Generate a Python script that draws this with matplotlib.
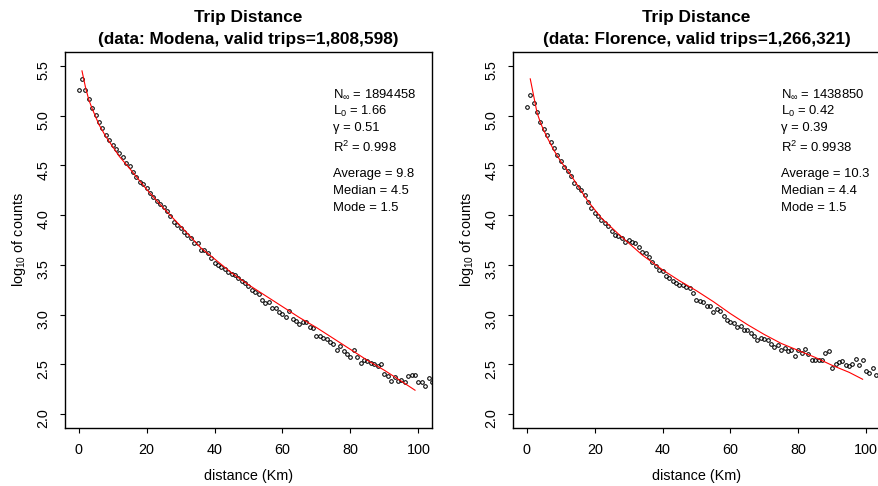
import matplotlib
matplotlib.use('Agg')
import matplotlib.pyplot as plt
import numpy as np

plt.rcParams['font.family'] = ['Liberation Sans', 'DejaVu Sans']
plt.rcParams['mathtext.fontset'] = 'custom'
plt.rcParams['mathtext.rm'] = 'Liberation Sans'
plt.rcParams['mathtext.it'] = 'Liberation Sans'
plt.rcParams['mathtext.bf'] = 'Liberation Sans:bold'

# distance bins (km)
km = np.arange(0, 105)

# log10 of counts per 1 km bin
modena_log = [5.256, 5.364, 5.256, 5.163, 5.082, 5.002, 4.935, 4.874, 4.801, 4.754,
              4.704, 4.663, 4.626, 4.586, 4.526, 4.492, 4.435, 4.379, 4.338, 4.308,
              4.268, 4.221, 4.184, 4.147, 4.114, 4.077, 4.037, 3.987, 3.930, 3.896,
              3.866, 3.833, 3.796, 3.769, 3.722, 3.722, 3.648, 3.648, 3.615, 3.565,
              3.521, 3.494, 3.481, 3.461, 3.430, 3.407, 3.397, 3.370, 3.337, 3.313,
              3.290, 3.246, 3.229, 3.203, 3.146, 3.112, 3.129, 3.069, 3.069, 3.022,
              3.005, 2.975, 3.039, 2.958, 2.938, 2.905, 2.925, 2.925, 2.871, 2.864,
              2.787, 2.787, 2.767, 2.750, 2.727, 2.700, 2.643, 2.680, 2.636, 2.600,
              2.570, 2.643, 2.570, 2.509, 2.539, 2.533, 2.509, 2.503, 2.486, 2.506,
              2.399, 2.382, 2.332, 2.372, 2.332, 2.342, 2.318, 2.379, 2.395, 2.389,
              2.325, 2.325, 2.281, 2.365, 2.318]

florence_log = [5.085, 5.206, 5.129, 5.032, 4.941, 4.861, 4.801, 4.734, 4.670, 4.603,
                4.549, 4.486, 4.442, 4.395, 4.325, 4.278, 4.248, 4.201, 4.127, 4.074,
                4.020, 3.993, 3.953, 3.923, 3.893, 3.836, 3.802, 3.789, 3.772, 3.732,
                3.749, 3.732, 3.715, 3.682, 3.625, 3.615, 3.581, 3.531, 3.487, 3.447,
                3.437, 3.387, 3.364, 3.337, 3.313, 3.293, 3.296, 3.280, 3.263, 3.213,
                3.146, 3.139, 3.129, 3.085, 3.085, 3.028, 3.052, 3.035, 2.988, 2.945,
                2.921, 2.911, 2.871, 2.884, 2.841, 2.841, 2.811, 2.787, 2.740, 2.767,
                2.750, 2.744, 2.700, 2.677, 2.697, 2.643, 2.660, 2.633, 2.643, 2.583,
                2.643, 2.616, 2.650, 2.600, 2.539, 2.539, 2.543, 2.543, 2.610, 2.630,
                2.462, 2.503, 2.526, 2.529, 2.496, 2.482, 2.499, 2.553, 2.496, 2.539,
                2.429, 2.409, 2.462, 2.392, 2.419]

# fitted curves (red), read at a few distances
modena_fit_km = [1, 2, 3, 4, 5, 6, 8, 10, 12, 15, 20, 25, 30, 36, 40, 45, 50, 55,
                 60, 65, 70, 75, 80, 85, 90, 95, 99]
modena_fit = [5.45, 5.29, 5.16, 5.07, 4.99, 4.91, 4.79, 4.69, 4.59, 4.47, 4.26, 4.07,
              3.89, 3.67, 3.56, 3.42, 3.30, 3.19, 3.08, 2.97, 2.87, 2.76, 2.65, 2.54,
              2.44, 2.33, 2.24]

florence_fit_km = [1, 2, 3, 4, 5, 6, 8, 10, 13, 18, 22, 27, 30, 34, 40, 45, 50, 55,
                   60, 65, 70, 75, 80, 85, 90, 95, 99]
florence_fit = [5.37, 5.20, 5.03, 4.93, 4.85, 4.78, 4.65, 4.54, 4.40, 4.14, 3.97,
                3.81, 3.72, 3.60, 3.45, 3.34, 3.24, 3.13, 3.01, 2.90, 2.80, 2.71,
                2.64, 2.57, 2.49, 2.42, 2.35]

titles = ['Trip Distance\n(data: Modena, valid trips=1,808,598)',
          'Trip Distance\n(data: Florence, valid trips=1,266,321)']
fit_params = [['1894458', '1.66', '0.51', '0.998'],
              ['1438850', '0.42', '0.39', '0.9938']]
stats = [['9.8', '4.5', '1.5'],
         ['10.3', '4.4', '1.5']]

fig = plt.figure(figsize=(8.79, 4.86), dpi=100)
ax1 = fig.add_axes([65/879, 58/486, 367/879, 376/486])
ax2 = fig.add_axes([513.3/879, 58/486, 366.3/879, 376/486])

panels = [(ax1, modena_log, modena_fit_km, modena_fit),
          (ax2, florence_log, florence_fit_km, florence_fit)]

for i, (ax, vals, fkm, fval) in enumerate(panels):
    ax.plot(km, vals, 'o', mfc='none', mec='black', ms=2.6, mew=0.75)
    ax.plot(fkm, fval, color='red', lw=0.8)
    ax.set_xlim(-4, 104)
    ax.set_ylim(1.86, 5.64)
    ax.set_xticks([0, 20, 40, 60, 80, 100])
    ax.set_yticks([2.0, 2.5, 3.0, 3.5, 4.0, 4.5, 5.0, 5.5])
    ax.set_yticklabels(['2.0', '2.5', '3.0', '3.5', '4.0', '4.5', '5.0', '5.5'])
    ax.tick_params(direction='out', length=3.6, width=0.8, labelsize=10.4, pad=7)
    ax.tick_params(axis='y', labelrotation=90)
    for s in ax.spines.values():
        s.set_linewidth(1.0)
    ax.set_xlabel('distance (Km)', fontsize=10.4, labelpad=9)
    ax.set_ylabel(r'log$_{10}$ of counts', fontsize=10.4, labelpad=6)
    ax.set_title(titles[i], fontsize=12.4, fontweight='bold', pad=6, linespacing=1.55)

    p = fit_params[i]
    st = stats[i]
    lines = [(5.216, r'N$_{\infty}$ = ' + p[0]),
             (5.045, r'L$_0$ = ' + p[1]),
             (4.874, 'γ = ' + p[2]),
             (4.680, r'R$^2$ = ' + p[3]),
             (4.41, 'Average = ' + st[0]),
             (4.24, 'Median = ' + st[1]),
             (4.07, 'Mode = ' + st[2])]
    for y, t in lines:
        ax.text(75, y, t, fontsize=9.4, ha='left', va='center')

fig.savefig('out.png', dpi=100)
